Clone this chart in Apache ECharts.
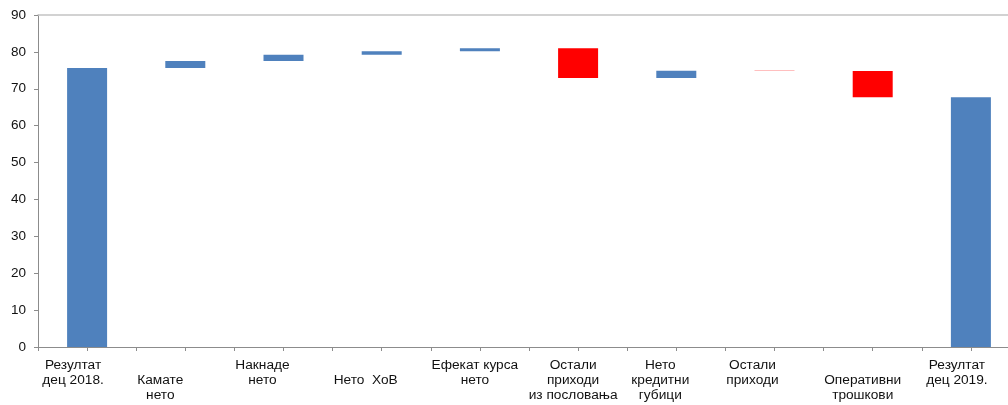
<!DOCTYPE html>
<html>
<head>
<meta charset="utf-8">
<script src="https://cdn.jsdelivr.net/npm/echarts@6/dist/echarts.min.js"></script>
<style>
  html, body { margin: 0; padding: 0; background: #fff; overflow: hidden; }
  #chart { width: 1020px; height: 405px; }
</style>
</head>
<body>
<div id="chart"></div>
<script>
// Categories of the bridge, from the 2018 result to the 2019 result
const categories = [
  'Резултат\nдец 2018.',
  'Камате\nнето',
  'Накнаде\nнето',
  'Нето  ХоВ',
  'Ефекат курса\nнето',
  'Остали\nприходи\nиз пословања',
  'Нето\nкредитни\nгубици',
  'Остали\nприходи',
  'Оперативни\nтрошкови',
  'Резултат\nдец 2019.'
];
// Opening total and the changes between the two totals
const startValue = 75.6;
const changes = [1.9, 1.7, 1.0, 0.8, -8.1, 2.0, -0.1, -7.1];
// Value axis ticks
const yTicks = [0, 10, 20, 30, 40, 50, 60, 70, 80, 90];

// Label layout: which labels sit one line lower, and their horizontal nudge (px, negative = left)
const labelDrop = [0, 1, 0, 1, 0, 0, 0, 0, 1, 0];
const labelShift = [-14, -25, -21, -16, -5, -5, -16, -22, -10, -14];

// Build the floating base, rises and falls
const base = [], rise = [], fall = [];
let level = startValue;
base.push(0); rise.push(startValue); fall.push(0);
changes.forEach(d => {
  if (d >= 0) { base.push(level); rise.push(d); fall.push(0); }
  else { base.push(level + d); rise.push(0); fall.push(-d); }
  level += d;
});
base.push(0); rise.push(+level.toFixed(1)); fall.push(0);

const axisData = categories.map((c, i) => ({
  value: c,
  textStyle: {
    padding: [labelDrop[i] ? 15 : 0, Math.max(0, -2 * labelShift[i]), 0, Math.max(0, 2 * labelShift[i])]
  }
}));

const chart = echarts.init(document.getElementById('chart'), null, { renderer: 'canvas' });
const font = 'Arial, "Liberation Sans", sans-serif';

chart.setOption({
  animation: false,
  backgroundColor: '#ffffff',
  grid: { left: 38, top: 15, right: 0, height: 332, containLabel: false },
  xAxis: [
    {
      type: 'category',
      data: axisData,
      boundaryGap: true,
      axisLine: { show: true, lineStyle: { color: '#8c8c8c', width: 1 } },
      axisTick: { show: true, length: 4, interval: 0, lineStyle: { color: '#8c8c8c' } },
      axisLabel: {
        interval: 0, margin: 11, color: '#111', fontFamily: font, fontSize: 13.7,
        lineHeight: 15, align: 'center'
      }
    },
    {
      // centre ticks under each bar
      type: 'category',
      data: categories,
      position: 'bottom',
      axisLine: { show: false },
      axisTick: { show: true, alignWithLabel: true, length: 4, interval: 0, lineStyle: { color: '#8c8c8c' } },
      axisLabel: { show: false }
    },
    {
      // top border of the plot
      type: 'category',
      data: categories,
      position: 'top',
      axisLine: { show: true, lineStyle: { color: '#c3c3c3', width: 1.5 } },
      axisTick: { show: false },
      axisLabel: { show: false }
    }
  ],
  yAxis: {
    type: 'value',
    min: yTicks[0],
    max: yTicks[yTicks.length - 1],
    interval: 10,
    axisLine: { show: true, lineStyle: { color: '#8c8c8c', width: 1 } },
    axisTick: { show: true, length: 4, lineStyle: { color: '#8c8c8c' } },
    splitLine: { show: false },
    axisLabel: { margin: 12, color: '#111', fontFamily: font, fontSize: 13.5 }
  },
  series: [
    {
      name: 'base', type: 'bar', stack: 'w', data: base, barWidth: 40,
      itemStyle: { color: 'rgba(0,0,0,0)' }, silent: true
    },
    {
      name: 'rise', type: 'bar', stack: 'w', data: rise, barWidth: 40,
      itemStyle: { color: '#4f81bd' }
    },
    {
      name: 'fall', type: 'bar', stack: 'w', data: fall, barWidth: 40,
      itemStyle: { color: '#ff0000' }
    }
  ]
});
</script>
</body>
</html>
